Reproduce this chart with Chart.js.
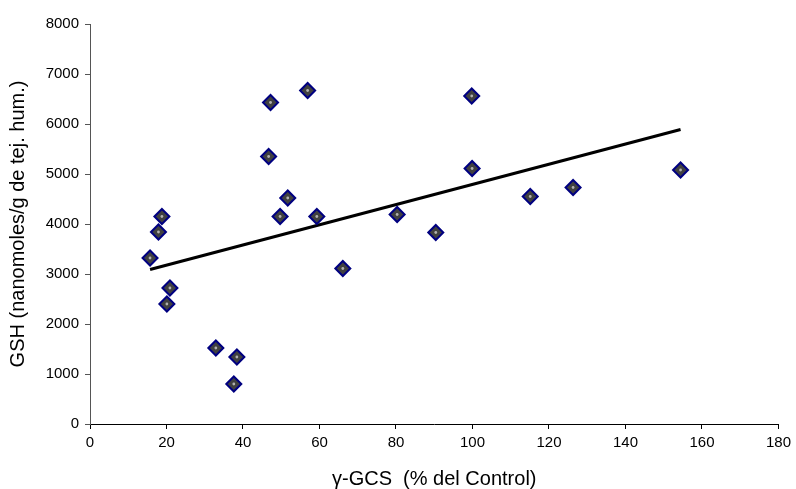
<!DOCTYPE html>
<html>
<head>
<meta charset="utf-8">
<script src="https://cdn.jsdelivr.net/npm/chart.js@4.4.0/dist/chart.umd.min.js"></script>
<style>
  html, body { margin: 0; padding: 0; background: #fff; }
  #wrap { width: 796px; height: 489px; position: relative; }
</style>
</head>
<body>
<div id="wrap"><canvas id="grafico"></canvas></div>
<script>
// Datos: γ-GCS (% del control) vs GSH
const gcs = [15.7, 17.9, 18.8, 20.9, 20.1, 32.9, 38.4, 37.6, 47.2, 56.9, 46.7,
             51.7, 49.7, 59.3, 66.1, 80.3, 90.4, 99.9, 99.8, 115.1, 126.3, 154.4];
const gsh = [3320, 3840, 4150, 2720, 2400, 1520, 1340, 800, 6430, 6670, 5350,
             4520, 4150, 4150, 3110, 4190, 3830, 5110, 6560, 4550, 4730, 5080];

// Recta de tendencia (extremos)
const tendX = [15.7, 154.4];
const tendY = [3090, 5890];

const xTicks = [0, 20, 40, 60, 80, 100, 120, 140, 160, 180];
const yTicks = [0, 1000, 2000, 3000, 4000, 5000, 6000, 7000, 8000];

const puntos = gcs.map((x, i) => ({ x: x, y: gsh[i] }));
const tendencia = tendX.map((x, i) => ({ x: x, y: tendY[i] }));

const fuente = "'Liberation Sans', Arial, sans-serif";

new Chart(document.getElementById('grafico'), {
  type: 'scatter',
  data: {
    datasets: [
      {
        type: 'line',
        data: tendencia,
        borderColor: '#000',
        borderWidth: 3,
        pointRadius: 0,
        fill: false,
        order: 3
      },
      {
        data: puntos,
        pointStyle: 'rectRot',
        pointRadius: 7.5,
        pointBackgroundColor: '#404040',
        pointBorderColor: '#000080',
        pointBorderWidth: 2,
        order: 2
      },
      {
        // punto claro en el centro del marcador
        data: puntos,
        pointStyle: 'circle',
        pointRadius: 1.4,
        pointBackgroundColor: '#b0b0b0',
        pointBorderWidth: 0,
        order: 1
      }
    ]
  },
  options: {
    responsive: true,
    maintainAspectRatio: false,
    animation: false,
    devicePixelRatio: 1,
    layout: { padding: { left: 0, right: 16, top: 24, bottom: 0 } },
    plugins: {
      legend: { display: false },
      tooltip: { enabled: false }
    },
    scales: {
      x: {
        type: 'linear',
        min: 0,
        max: 180,
        afterBuildTicks: s => { s.ticks = xTicks.map(v => ({ value: v })); },
        afterFit: s => { s.height = 65; },
        grid: { drawOnChartArea: false, drawTicks: true, tickLength: 5, color: '#000' },
        border: { color: '#000', width: 1 },
        ticks: { color: '#000', padding: 5, maxRotation: 0, font: { family: fuente, size: 15 },
                 callback: v => String(v) },
        title: {
          display: true,
          text: 'γ-GCS  (% del Control)',
          color: '#000',
          font: { family: fuente, size: 20 },
          padding: { top: 0, bottom: -2 }
        }
      },
      y: {
        type: 'linear',
        min: 0,
        max: 8000,
        afterBuildTicks: s => { s.ticks = yTicks.map(v => ({ value: v })); },
        afterFit: s => { s.width = 90; },
        grid: { drawOnChartArea: false, drawTicks: true, tickLength: 5, color: '#555' },
        border: { color: '#555', width: 1 },
        ticks: { color: '#000', padding: 6, font: { family: fuente, size: 15 },
                 callback: v => String(v) },
        title: {
          display: true,
          text: 'GSH (nanomoles/g de tej. hum.)',
          color: '#000',
          font: { family: fuente, size: 20 },
          padding: { top: 6, bottom: 0 }
        }
      }
    }
  }
});
</script>
</body>
</html>
